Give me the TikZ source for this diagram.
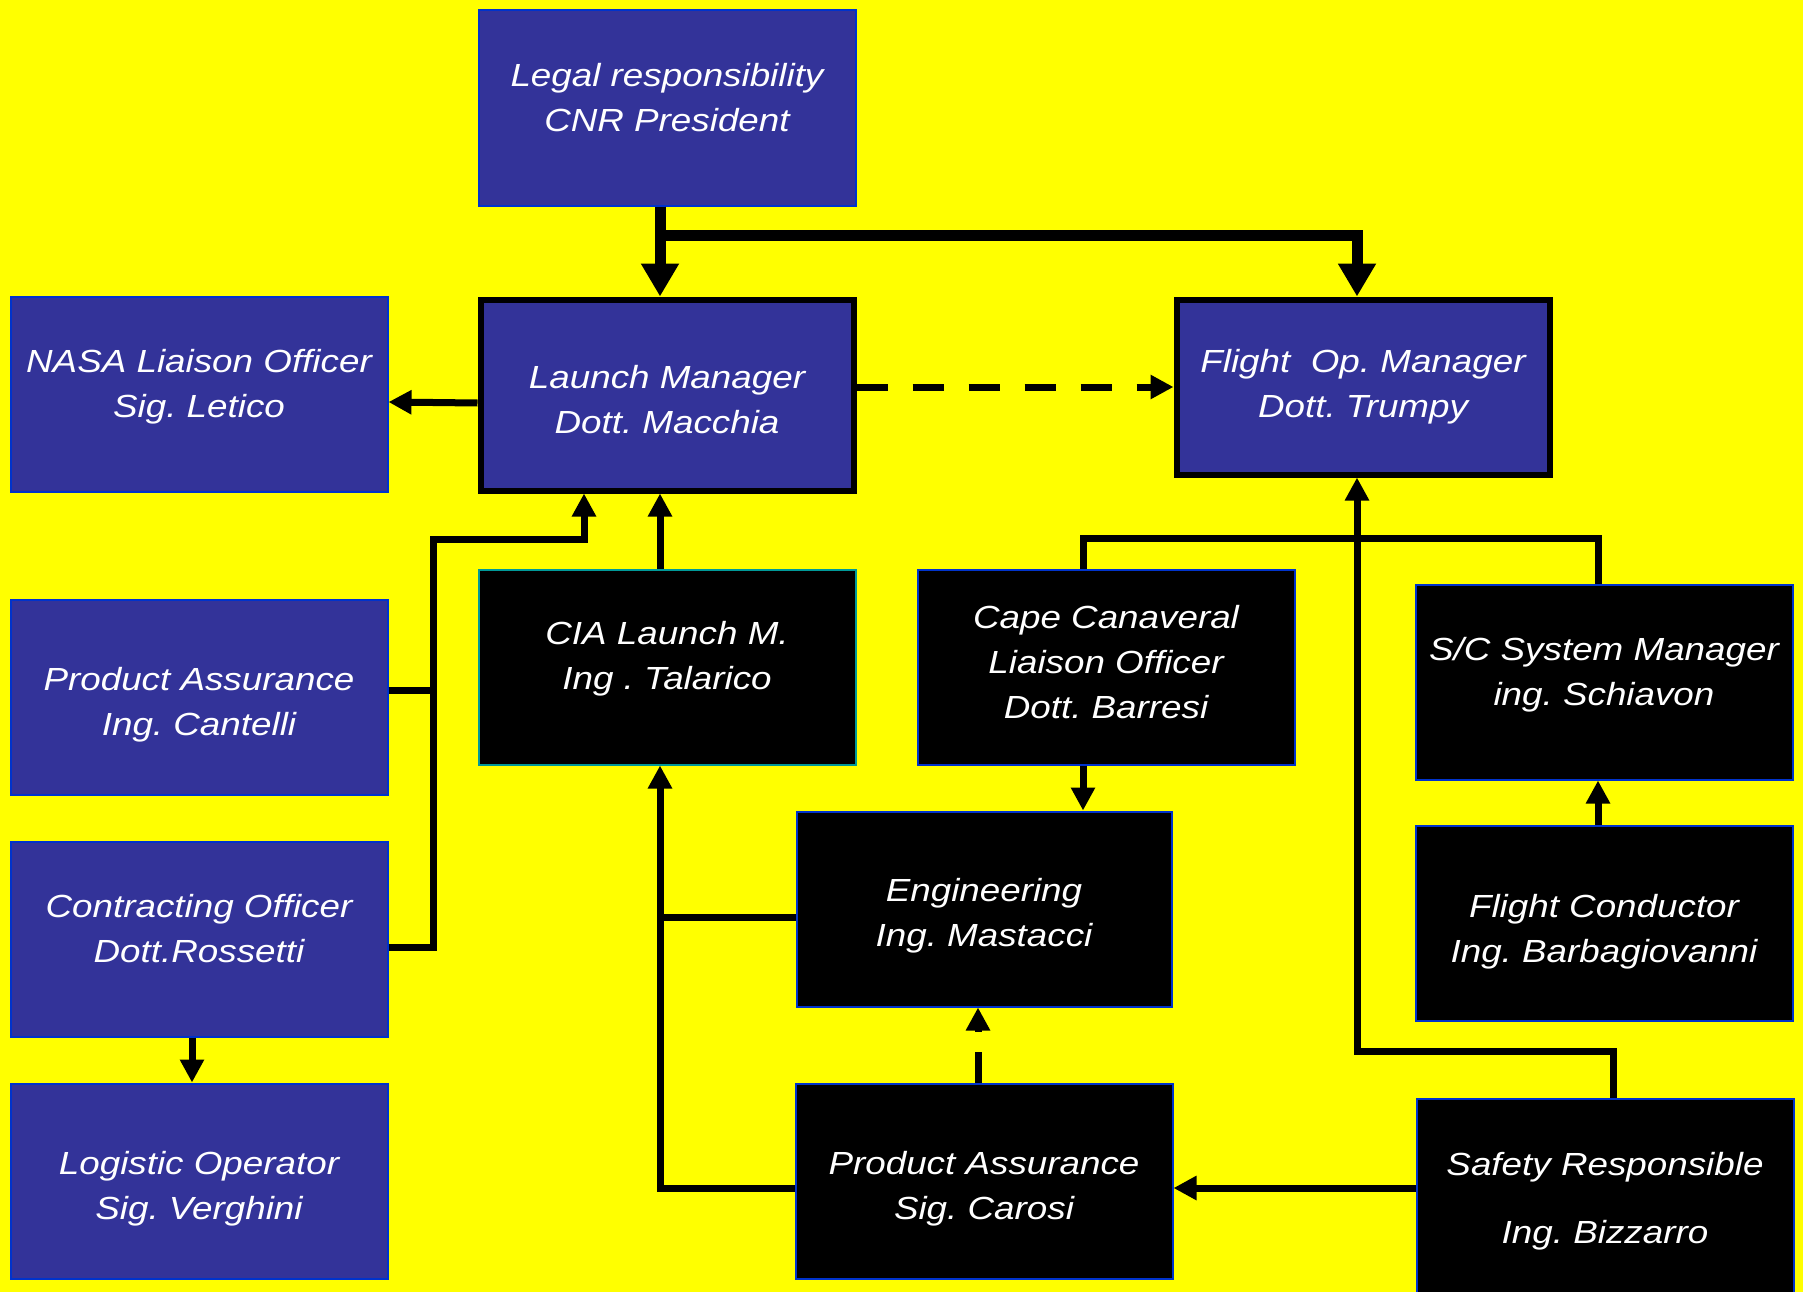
\documentclass[tikz,border=0pt]{standalone}
\usepackage{fontspec}
\newfontfamily\boxfont[FakeStretch=1.15]{Liberation Sans}
\frenchspacing
\usetikzlibrary{arrows.meta}
\definecolor{orgyellow}{RGB}{255,255,0}
\definecolor{orgblue}{RGB}{51,51,153}
\definecolor{orgedge}{RGB}{0,51,204}
\definecolor{orgteal}{RGB}{0,153,153}

\begin{document}
\begin{tikzpicture}[x=1pt,y=-1pt,
   every node/.style={align=center,inner sep=0pt,text=white,
      font=\boxfont\itshape\fontsize{32}{45}\selectfont},
   bluebox/.style={rectangle,fill=orgblue,draw=orgedge,line width=2pt,
      minimum width=377pt,minimum height=195pt},
   blackbox/.style={bluebox,fill=black},
   keybox/.style={draw=black,line width=6pt,minimum width=373pt,minimum height=191pt},
   conn/.style={line width=7pt},
   arr/.style={conn,-{Triangle[length=23pt,width=23pt]}},
   bigarr/.style={line width=11pt,-{Triangle[length=33pt,width=36pt]}}]
   \fill[orgyellow] (0,0) rectangle (1803,1292);
   \useasboundingbox (0,0) rectangle (1803,1292);
   \clip (0,0) rectangle (1803,1292);

   \node (legal) at (667,108) [bluebox,label={[yshift=10pt]center:{Legal responsibility\\CNR President}}] {};
   \node (launch) at (667,395) [bluebox,keybox,label={[yshift=-5pt]center:{Launch Manager\\Dott. Macchia}}] {};
   \node (flight) at (1363,387) [bluebox,keybox,minimum height=175pt,label={center:{Flight\ \ Op. Manager\\Dott. Trumpy}}] {};
   \node (nasa) at (199,394) [bluebox,label={[yshift=7pt]center:{NASA Liaison Officer\\Sig. Letico}}] {};
   \node (cantelli) at (199,697) [bluebox,label={[yshift=-8pt]center:{Product Assurance\\Ing. Cantelli}}] {};
   \node (contract) at (199,939) [bluebox,label={[yshift=10pt]center:{Contracting Officer\\Dott.Rossetti}}] {};
   \node (logistic) at (199,1181) [bluebox,label={[yshift=-8pt]center:{Logistic Operator\\Sig. Verghini}}] {};
   \node (cia) at (667,667) [blackbox,draw=orgteal,label={[yshift=8pt]center:{CIA Launch M.\\Ing . Talarico}}] {};
   \node (cape) at (1106,667) [blackbox,label={[yshift=5pt]center:{Cape Canaveral\\Liaison Officer\\Dott. Barresi}}] {};
   \node (scsys) at (1604,682) [blackbox,label={[yshift=7pt]center:{S/C System Manager\\ing. Schiavon}}] {};
   \node (eng) at (984,909) [blackbox,minimum width=375pt,label={[yshift=-7pt]center:{Engineering\\Ing. Mastacci}}] {};
   \node (fcond) at (1604,923) [blackbox,label={[yshift=-9pt]center:{Flight Conductor\\Ing. Barbagiovanni}}] {};
   \node (carosi) at (984,1181) [blackbox,label={[yshift=-8pt]center:{Product Assurance\\Sig. Carosi}}] {};
   \node (safety) at (1605,1196) [blackbox,label={[yshift=-5pt]center:{Safety Responsible\\[23pt]Ing. Bizzarro}}] {};

   \coordinate (jleft) at (433,539);
   \coordinate (cantout) at ([yshift=7pt]cantelli.east);
   \coordinate (contout) at ([yshift=-8pt]contract.east);
   \coordinate (ciain) at ([xshift=-7pt]cia.south);
   \coordinate (engout) at ([yshift=-8pt]eng.west);
   \coordinate (capeout) at ([xshift=-23pt]cape.south);
   \coordinate (safeout) at ([yshift=8pt]safety.west);

   \draw[bigarr] ([xshift=-7pt]legal.south) -- ([xshift=-7pt]launch.north);
   \draw[bigarr] ([xshift=-7pt]legal.south) -- ++(0,29) -| ([xshift=-6pt]flight.north);
   \draw[arr] ([yshift=-8pt]launch.west) -- ([yshift=-8pt]nasa.east);
   \draw[arr,dash pattern=on 31pt off 25pt] (launch.east |- flight.west) -- (flight.west);
   \draw[arr] ([xshift=-7pt]cia.north) -- ([xshift=-7pt]launch.south);
   \draw[conn] (cantout) -- (cantout -| jleft);
   \draw[arr] (contout) -| (jleft) -| ([xshift=-83pt]launch.south);
   \draw[arr] ([xshift=-7pt]contract.south) -- ([xshift=-7pt]logistic.north);
   \draw[arr] ([yshift=-7pt]carosi.west) -| (ciain);
   \draw[conn] (engout) -- (engout -| ciain);
   \draw[arr] (capeout) -- (capeout |- eng.north);
   \draw[conn] ([xshift=-23pt]cape.north) -- ++(0,-30) -| ([xshift=-6pt]scsys.north);
   \draw[arr] ([xshift=-6pt]fcond.north) -- ([xshift=-6pt]scsys.south);
   \draw[arr] ([xshift=8pt]safety.north) -- ++(0,-46) -| ([xshift=-6pt]flight.south);
   \draw[arr] (safeout) -- (safeout -| carosi.east);
   \draw[arr,dash pattern=on 31pt off 20pt] ([xshift=-6pt]carosi.north) -- ([xshift=-6pt]eng.south);
\end{tikzpicture}
\end{document}
